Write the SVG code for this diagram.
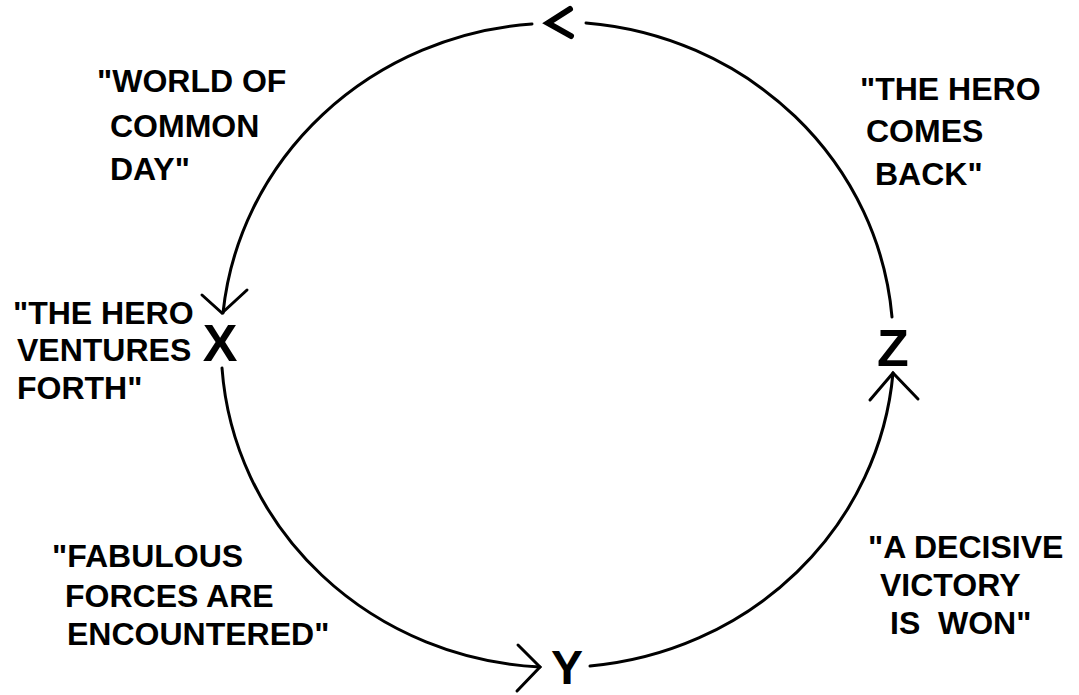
<svg xmlns="http://www.w3.org/2000/svg" width="1079" height="695" viewBox="0 0 1079 695">
<style>
.lbl{font-family:"Liberation Sans",Arial,sans-serif;font-weight:bold;font-size:32px;fill:#000}
.big{font-family:"Liberation Sans",Arial,sans-serif;font-weight:bold;font-size:52px;fill:#000;text-anchor:middle}
.arc{fill:none;stroke:#000;stroke-width:3;stroke-linecap:round}
.head{fill:none;stroke:#000;stroke-width:3;stroke-linecap:round;stroke-linejoin:miter}
</style>
<rect width="1079" height="695" fill="#fff"/>
<g id="connectors">
<path class="arc" d="M532,24 A336,322 0 0 0 223,313"/>
<path class="arc" d="M222,368 A336,322 0 0 0 540,667"/>
<path class="arc" d="M590,666 A336,322 0 0 0 893,373"/>
<path class="arc" d="M892,317 A336,322 0 0 0 586,23"/>
<polyline class="head" points="202,295 222,313 247,290"/>
<polyline class="head" points="518,645 540,667 517,691"/>
<polyline class="head" points="870,400 893,373 918,399"/>
<polyline class="head" style="stroke-width:6" points="570,9 548,23 571,36"/>
</g>
<g id="node-x"><text class="big" x="220" y="361">X</text></g>
<g id="node-y"><text class="big" x="567" y="684" style="font-size:48px">Y</text></g>
<g id="node-z"><text class="big" x="893" y="366">Z</text></g>
<g id="label-common-day">
<text class="lbl" x="97" y="92">"WORLD OF</text>
<text class="lbl" x="110" y="137">COMMON</text>
<text class="lbl" x="110" y="180">DAY"</text>
</g>
<g id="label-comes-back">
<text class="lbl" x="860" y="100">"THE HERO</text>
<text class="lbl" x="866" y="142">COMES</text>
<text class="lbl" x="875" y="185">BACK"</text>
</g>
<g id="label-ventures-forth">
<text class="lbl" x="13" y="324">"THE HERO</text>
<text class="lbl" x="17" y="361">VENTURES</text>
<text class="lbl" x="17" y="399">FORTH"</text>
</g>
<g id="label-fabulous-forces">
<text class="lbl" x="52" y="567">"FABULOUS</text>
<text class="lbl" x="65" y="607">FORCES ARE</text>
<text class="lbl" x="67" y="645">ENCOUNTERED"</text>
</g>
<g id="label-decisive-victory">
<text class="lbl" x="868" y="558">"A DECISIVE</text>
<text class="lbl" x="880" y="596">VICTORY</text>
<text class="lbl" x="890" y="634" xml:space="preserve">IS  WON"</text>
</g>
</svg>
